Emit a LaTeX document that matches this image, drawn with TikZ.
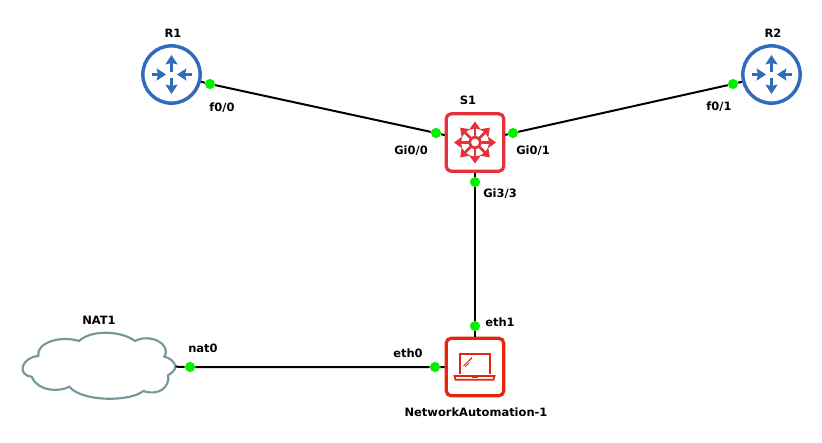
\documentclass[tikz,border=0pt]{standalone}
\usepackage{fontspec}
\setmainfont{DejaVu Sans}
\usetikzlibrary{arrows.meta}
\definecolor{routerblue}{HTML}{2F6CBD}
\definecolor{switchred}{HTML}{E4313A}
\definecolor{laptopred}{HTML}{E5260A}
\definecolor{cloudgray}{HTML}{76979B}
\definecolor{portgreen}{HTML}{00F000}
\tikzset{
		% Device nodes: round router, square switch and host
		router node/.style={circle,draw=routerblue,line width=2.6pt,fill=white,minimum size=43pt,inner sep=0},
		switch node/.style={rectangle,rounded corners=3.5pt,draw=switchred,line width=2.4pt,fill=white,minimum size=43pt,inner sep=0},
		host node/.style={rectangle,rounded corners=3.5pt,draw=laptopred,line width=2.4pt,fill=white,minimum size=43pt,inner sep=0},
		port node/.style={circle,fill=portgreen,inner sep=0,minimum size=7.6pt},
		name label/.style={font=\bfseries\fontsize{8.6}{10}\selectfont,inner sep=0},
		link/.style={draw,black,line width=1.5pt},
		router arrow/.style={draw=routerblue,line width=2.4pt,-{Stealth[length=7pt,width=9pt,inset=1pt]}},
		switch arrow/.style={draw=switchred,line width=2pt,-{Stealth[length=6pt,width=8.5pt,inset=.8pt]}},
		router icon/.pic={
			\foreach \a in {90,270} {\draw[router arrow] (\a:3) -- (\a:19.5);}
			\foreach \a in {0,180} {\draw[router arrow] (\a:20) -- (\a:5.5);}
		},
		switch icon/.pic={
			\draw[switchred,line width=2.1pt] (0,0) circle (5.5);
			\foreach \a in {0,45,...,315} {\draw[switch arrow] (\a:6.5) -- (\a:21);}
		},
		laptop icon/.pic={
			\draw[laptopred,line width=1.5pt] (-15,6.5) -- (-15,-12.7) -- (15,-12.7) -- (15,6.5);
			\draw[laptopred,line width=1.3pt] (-20.5,9) -- (19.5,9) -- (18.5,12.7) -- (-19.5,12.7) -- cycle;
			\draw[laptopred,line width=.7pt] (-11.5,-1) -- (-3,-9.5) (-9.5,-.5) -- (-6,-4) (-6,-6) -- (-3,-9);
			\draw[laptopred,line width=1.2pt] (-3,10) -- (3,10);
		}
	}

\begin{document}
\begin{tikzpicture}[x=.75pt,y=-.75pt]
		\useasboundingbox (0,0) rectangle (822,443);
		% cloud outline
		\draw [cloudgray,line width=1.6pt,fill=white]
			(175.7,366.7) .. controls (174,361) and (170,358) .. (164.3,356.7)
			.. controls (172,344) and (150,333) .. (135,341)
			.. controls (122,331) and (92,329) .. (79,341)
			.. controls (60,335) and (36,343) .. (38.3,356)
			.. controls (22,357) and (16,375) .. (31.7,376.7)
			.. controls (38,392) and (60,392) .. (69.3,386.7)
			.. controls (82,402) and (130,402) .. (143.3,391)
			.. controls (158,396) and (170,388) .. (168.3,375)
			.. controls (172,373) and (175,370) .. (175.7,366.7) -- cycle;
		\coordinate (NAT1) at (175.7,366.7);
		\node [router node] (R1) at (171.5,74.5) {};
		\node [router node] (R2) at (771.5,74.5) {};
		\node [switch node] (S1) at (475,142.5) {};
		\node [host node] (NA1) at (475,367) {};
		\pic at (R1) {router icon};
		\pic at (R2) {router icon};
		\pic at (S1) {switch icon};
		\pic at (NA1) {laptop icon};
		% ports
		\node [port node] (R1-f00) at (210,84) {};
		\node [port node] (R2-f01) at (733,84) {};
		\node [port node] (S1-g00) at (436,133) {};
		\node [port node] (S1-g01) at (513,133) {};
		\node [port node] (S1-g33) at (475,182) {};
		\node [port node] (NA1-e1) at (475,326) {};
		\node [port node] (NA1-e0) at (435,367) {};
		\node [port node] (NAT1-n0) at (190,367) {};
		% links
		\draw [link] (R1) -- (R1-f00) -- (S1-g00) -- (S1);
		\draw [link] (R2) -- (R2-f01) -- (S1-g01) -- (S1);
		\draw [link] (S1) -- (S1-g33) -- (NA1-e1) -- (NA1);
		\draw [link] (NAT1) -- (NAT1-n0) -- (NA1-e0) -- (NA1);
		% labels
		\node [name label] (lab-R1) at (173,33) {R1};
		\node [name label] (lab-R2) at (773,33) {R2};
		\node [name label] (lab-S1) at (468,100) {S1};
		\node [name label] (lab-NAT1) at (99,320) {NAT1};
		\node [name label] (lab-NA1) at (476,412) {NetworkAutomation-1};
		\node [name label] (lab-f00) at (222,108) {f0/0};
		\node [name label] (lab-f01) at (719,107) {f0/1};
		\node [name label] (lab-g00) at (411,151) {Gi0/0};
		\node [name label] (lab-g01) at (533,151) {Gi0/1};
		\node [name label] (lab-g33) at (500,194) {Gi3/3};
		\node [name label] (lab-e1) at (500,322) {eth1};
		\node [name label] (lab-e0) at (408,353) {eth0};
		\node [name label] (lab-n0) at (203,348) {nat0};
	\end{tikzpicture}
\end{document}
